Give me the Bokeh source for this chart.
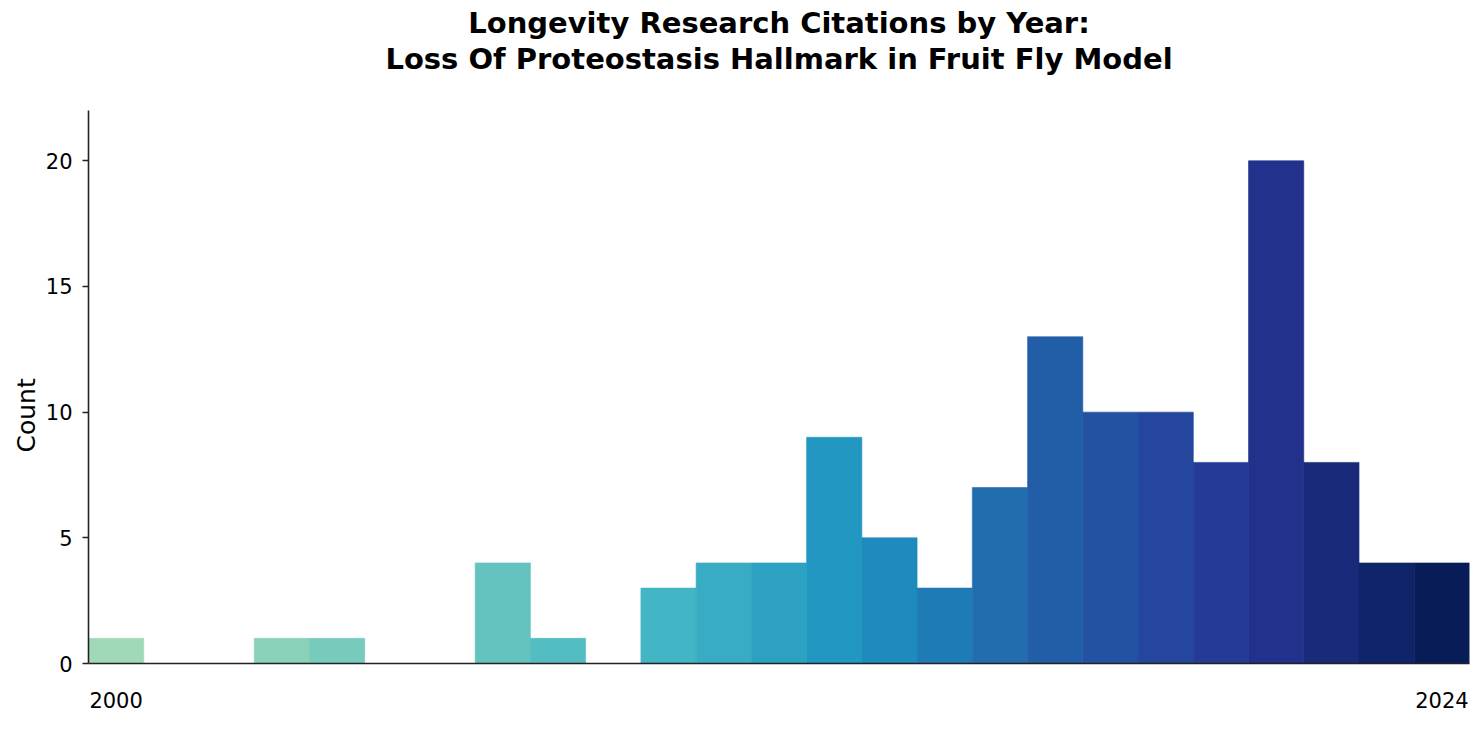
from bokeh.plotting import figure
from bokeh.models import Range1d, FixedTicker, ColumnDataSource, Title
from bokeh.embed import file_html
from bokeh.resources import INLINE

# ---- data ----
years = list(range(2000, 2025))
counts = [1, 0, 0, 1, 1, 0, 0, 4, 1, 0, 3, 4, 4, 9, 5, 3, 7, 13, 10, 10, 8, 20, 8, 4, 4]
x_tick_years = [2000, 2024]
y_ticks = [0, 5, 10, 15, 20]
title_lines = ["Longevity Research Citations by Year:",
               "Loss Of Proteostasis Hallmark in Fruit Fly Model"]
y_label = "Count"

# ---- colour map (YlGnBu), one step per non-empty year ----
anchors = ["#ffffd9", "#edf8b1", "#c7e9b4", "#7fcdbb", "#41b6c4",
           "#1d91c0", "#225ea8", "#253494", "#081d58"]


def cmap(t):
    t = min(max(t, 0.0), 1.0)
    pos = t * (len(anchors) - 1)
    i = min(int(pos), len(anchors) - 2)
    f = pos - i
    a = anchors[i]
    b = anchors[i + 1]
    ca = [int(a[k:k + 2], 16) for k in (1, 3, 5)]
    cb = [int(b[k:k + 2], 16) for k in (1, 3, 5)]
    c = [round(ca[j] + (cb[j] - ca[j]) * f) for j in range(3)]
    return "#%02x%02x%02x" % tuple(c)


n_nonzero = sum(1 for c in counts if c > 0)
colors = []
edge_alpha = []
k = 0
for c in counts:
    t = 0.32 + 0.68 * k / max(n_nonzero - 1, 1)
    colors.append(cmap(t))
    edge_alpha.append(1.0 if c > 0 else 0.0)
    if c > 0:
        k += 1

src = ColumnDataSource(dict(x=years, top=counts, color=colors, la=edge_alpha))

W, H = 1476, 725
p = figure(width=W, height=H, output_backend="svg", toolbar_location=None,
           x_range=Range1d(years[0] - 0.5, years[-1] + 0.5),
           y_range=Range1d(0, 22),
           min_border_left=88, min_border_right=7,
           min_border_top=110, min_border_bottom=62)

p.vbar(x="x", top="top", width=1.0, bottom=0, fill_color="color",
       line_color="color", line_alpha="la", line_width=0.6, source=src)

p.title.visible = False
# spacer panel between plot frame and the title lines
p.add_layout(Title(text=" ", text_font_size="30px", text_line_height=1.0,
                   standoff=0), "above")
title_lh = [0.7, 1.0]
for txt, lh in reversed(list(zip(title_lines, title_lh))):
    p.add_layout(Title(text=txt, align="center", text_font="DejaVu Sans",
                       text_font_style="bold", text_font_size="29px",
                       text_line_height=lh, text_color="black", standoff=0),
                 "above")

p.outline_line_color = None
p.grid.visible = False
p.background_fill_color = "white"
p.border_fill_color = "white"

xa = p.xaxis[0]
xa.ticker = FixedTicker(ticks=x_tick_years)
xa.major_tick_line_color = None
xa.minor_tick_line_color = None
xa.major_tick_out = 0
xa.major_label_standoff = 28
xa.major_label_text_font = "DejaVu Sans"
xa.major_label_text_font_size = "21px"
xa.major_label_text_color = "black"
xa.axis_line_color = "#222222"
xa.axis_line_width = 1.6

ya = p.yaxis[0]
ya.ticker = FixedTicker(ticks=y_ticks)
ya.minor_tick_line_color = None
ya.major_tick_out = 6
ya.major_tick_in = 0
ya.major_tick_line_color = "#222222"
ya.major_tick_line_width = 1.6
ya.major_label_standoff = 10
ya.major_label_text_font = "DejaVu Sans"
ya.major_label_text_font_size = "21px"
ya.major_label_text_color = "black"
ya.axis_line_color = "#222222"
ya.axis_line_width = 1.6

# y label as a left-side title, offset so it sits where the reference has it
p.add_layout(Title(text=y_label, align="left", offset=211,
                   text_font="DejaVu Sans", text_font_style="normal",
                   text_font_size="25px", text_color="black", standoff=4),
             "left")

open("out.html", "w").write(file_html(p, INLINE))
